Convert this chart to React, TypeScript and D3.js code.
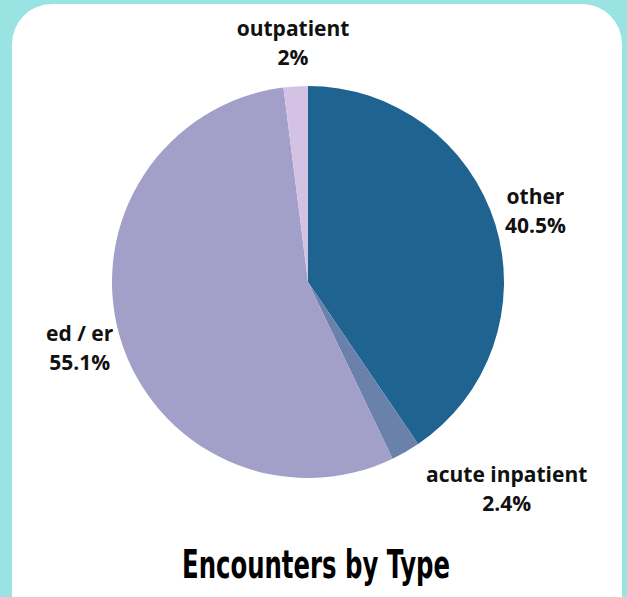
import * as React from 'react';
import * as d3 from 'd3';

const categories = ['other', 'acute inpatient', 'ed / er', 'outpatient'];
const shares = [40.5, 2.4, 55.1, 2.0];
const shareLabels = ['40.5%', '2.4%', '55.1%', '2%'];
const colors = ['#1f6390', '#6a82ab', '#a29fc8', '#d4c2e4'];

const W = 627;
const H = 597;

export default function App() {
  const cx = 308;
  const cy = 282;
  const radius = 196;
  const labelRadius = 238;

  const pie = d3.pie<number>().sort(null).value(d => d);
  const arcs = pie(shares);
  const arc = d3.arc<d3.PieArcDatum<number>>().innerRadius(0).outerRadius(radius);
  const labelArc = d3.arc<d3.PieArcDatum<number>>().innerRadius(labelRadius).outerRadius(labelRadius);

  // small slice label gets pushed out so it clears the pie edge
  const labelPos = (a: d3.PieArcDatum<number>, i: number) => {
    if (i === 1) {
      const mid = (a.startAngle + a.endAngle) / 2 - 0.24;
      const r = 288;
      return [Math.sin(mid) * r, -Math.cos(mid) * r];
    }
    return labelArc.centroid(a);
  };

  return (
    <svg width={W} height={H} style={{ position: 'absolute', left: 0, top: 0 }}>
      <rect x={0} y={0} width={W} height={H} fill="#9ae3e3" />
      <rect x={12} y={4} width={610} height={630} rx={40} ry={40} fill="#ffffff" />
      <g transform={`translate(${cx},${cy})`}>
        {arcs.map((a, i) => (
          <path key={categories[i]} d={arc(a) || ''} fill={colors[i]} />
        ))}
        {arcs.map((a, i) => {
          const [x, y] = labelPos(a, i);
          return (
            <text
              key={'l' + i}
              x={x}
              y={y}
              textAnchor="middle"
              fontFamily="'Open Sans', sans-serif"
              fontWeight={700}
              fontSize={21}
              fill="#111"
            >
              <tspan x={x} dy="-0.4em">{categories[i]}</tspan>
              <tspan x={x} dy="1.4em">{shareLabels[i]}</tspan>
            </text>
          );
        })}
      </g>
      <text
        x={316}
        y={578}
        textAnchor="middle"
        fontFamily="'Liberation Sans Narrow', 'DejaVu Sans Condensed', sans-serif"
        fontWeight={700}
        fontSize={39}
        textLength={268}
        lengthAdjust="spacingAndGlyphs"
        fill="#000"
      >
        Encounters by Type
      </text>
    </svg>
  );
}
